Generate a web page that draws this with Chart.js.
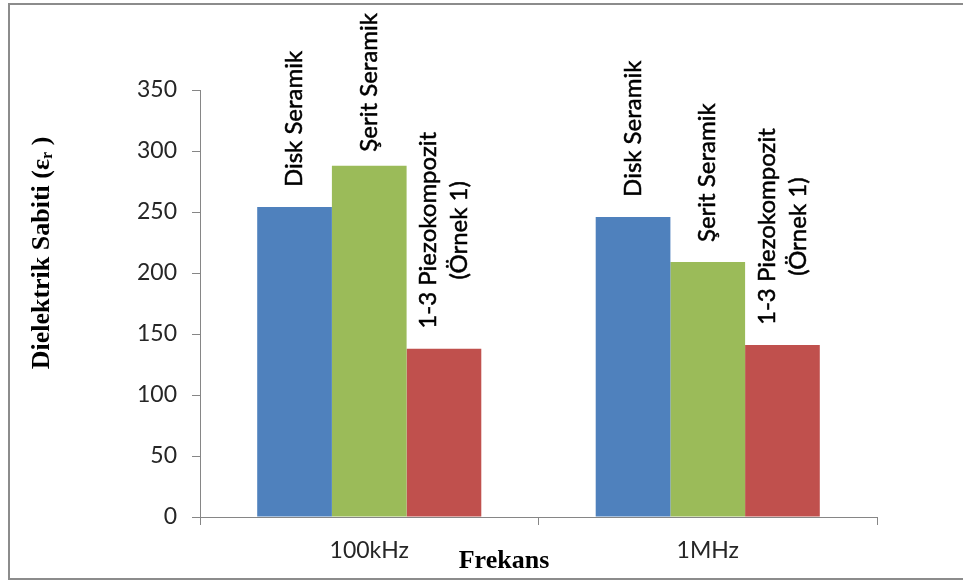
<!DOCTYPE html>
<html>
<head>
<meta charset="utf-8">
<style>
  html, body { margin: 0; padding: 0; background: #ffffff; }
  #wrap { position: relative; width: 963px; height: 583px; }
</style>
<script src="https://cdn.jsdelivr.net/npm/chart.js@4/dist/chart.umd.min.js"></script>
</head>
<body>
<div id="wrap"><canvas id="c" width="963" height="583"></canvas></div>
<script>
// Frequencies on the x axis
const categories = ['100kHz', '1MHz'];

// Sample names (multi-line where the label wraps)
const seriesNames = [
  ['Disk Seramik'],
  ['Şerit Seramik'],
  ['1-3 Piezokompozit', '(Örnek 1)']
];

// Dielectric constant per sample at each frequency
const diskValues  = [254, 246];
const seritValues = [288, 209];
const piezoValues = [138, 141];

// Value axis range and tick step
const yMin = 0;
const yMax = 350;
const yStep = 50;

const seriesColors = ['#4F81BD', '#9BBB59', '#C0504D'];
const axisColor = '#868686';
const labelFont = "Lato, 'Open Sans', 'Noto Sans', sans-serif";
const titleFont = "'Liberation Serif', 'DejaVu Serif', serif";

// Outer frame around the whole chart
const framePlugin = {
  id: 'frame',
  beforeDraw(chart) {
    const ctx = chart.ctx;
    ctx.save();
    ctx.fillStyle = '#ffffff';
    ctx.fillRect(0, 0, chart.width, chart.height);
    ctx.strokeStyle = '#8c8c8c';
    ctx.lineWidth = 2;
    ctx.beginPath();
    ctx.moveTo(chart.width + 2, 4);
    ctx.lineTo(9, 4);
    ctx.lineTo(9, 579);
    ctx.lineTo(chart.width + 2, 579);
    ctx.stroke();
    ctx.restore();
  }
};

// Rotated sample names above each bar
const barLabelPlugin = {
  id: 'barLabels',
  afterDatasetsDraw(chart) {
    const ctx = chart.ctx;
    const fontSize = 24;
    const lineH = 31;
    const gap = 20;
    const topLimit = 13;
    ctx.save();
    ctx.font = fontSize + 'px ' + labelFont;
    ctx.fillStyle = '#000000';
    ctx.strokeStyle = '#000000';
    ctx.lineWidth = 0.5;
    chart.data.datasets.forEach((ds, di) => {
      const meta = chart.getDatasetMeta(di);
      const lines = seriesNames[di];
      const w = Math.max(...lines.map(l => ctx.measureText(l).width));
      meta.data.forEach(bar => {
        let bottom = bar.y - gap;
        if (bottom - w < topLimit) bottom = topLimit + w;
        const cy = bottom - w / 2;
        ctx.save();
        ctx.translate(bar.x, cy);
        ctx.rotate(-Math.PI / 2);
        ctx.textAlign = 'center';
        ctx.textBaseline = 'middle';
        lines.forEach((l, i) => {
          const off = (i - (lines.length - 1) / 2) * lineH;
          ctx.fillText(l, 0, off);
          ctx.strokeText(l, 0, off);
        });
        ctx.restore();
      });
    });
    ctx.restore();
  }
};

// Axis titles (serif, bold; y title carries a subscript)
const axisTitlePlugin = {
  id: 'axisTitles',
  afterDraw(chart) {
    const ctx = chart.ctx;
    ctx.save();
    ctx.fillStyle = '#000000';
    ctx.textBaseline = 'middle';

    // x title
    ctx.font = 'bold 26px ' + titleFont;
    ctx.textAlign = 'center';
    ctx.fillText('Frekans', 504, 561);

    // y title
    const mainFont = 'bold 26px ' + titleFont;
    const subFont = 'bold 16px ' + titleFont;
    const partA = 'Dielektrik Sabiti (ε';
    const partB = 'r';
    const partC = ' )';
    ctx.font = mainFont;
    const wA = ctx.measureText(partA).width;
    const wC = ctx.measureText(partC).width;
    ctx.font = subFont;
    const wB = ctx.measureText(partB).width;
    const total = wA + wB + wC;
    ctx.translate(42, 253);
    ctx.rotate(-Math.PI / 2);
    ctx.textAlign = 'left';
    let x = -total / 2;
    ctx.font = mainFont;
    ctx.fillText(partA, x, 0);
    x += wA;
    ctx.font = subFont;
    ctx.fillText(partB, x, 6);
    x += wB;
    ctx.font = mainFont;
    ctx.fillText(partC, x, 0);
    ctx.restore();
  }
};

const series = [diskValues, seritValues, piezoValues];

new Chart(document.getElementById('c'), {
  type: 'bar',
  data: {
    labels: categories,
    datasets: series.map((vals, i) => ({
      label: seriesNames[i].join(' '),
      data: vals,
      backgroundColor: seriesColors[i],
      borderWidth: 0,
      categoryPercentage: 0.662,
      barPercentage: 1.0
    }))
  },
  options: {
    responsive: false,
    animation: false,
    devicePixelRatio: 1,
    layout: { padding: { left: 0, top: 90, right: 86, bottom: 0 } },
    plugins: {
      legend: { display: false },
      tooltip: { enabled: false },
      title: { display: false }
    },
    scales: {
      x: {
        grid: {
          display: true,
          offset: true,
          drawOnChartArea: false,
          drawTicks: true,
          tickLength: 8,
          color: axisColor
        },
        border: { display: true, color: axisColor, width: 1 },
        ticks: {
          color: '#262626',
          font: { family: labelFont, size: 23 },
          padding: 12
        },
        afterFit(scale) { scale.height = 66; }
      },
      y: {
        min: yMin,
        max: yMax,
        grid: {
          display: true,
          drawOnChartArea: false,
          drawTicks: true,
          tickLength: 8,
          color: axisColor
        },
        border: { display: true, color: axisColor, width: 1 },
        ticks: {
          stepSize: yStep,
          color: '#262626',
          font: { family: labelFont, size: 23 },
          padding: 15
        },
        afterFit(scale) { scale.width = 200; }
      }
    }
  },
  plugins: [framePlugin, barLabelPlugin, axisTitlePlugin]
});
</script>
</body>
</html>
